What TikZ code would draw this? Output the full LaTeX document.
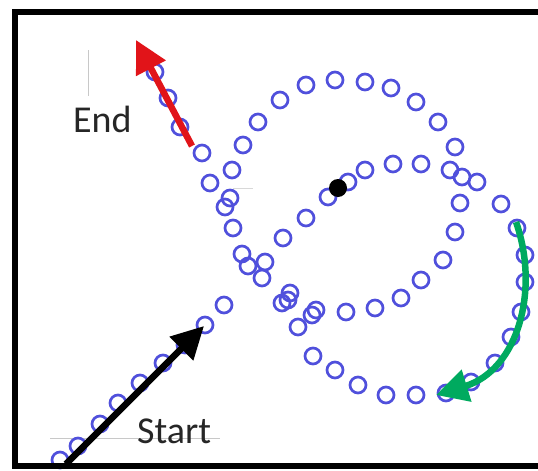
\documentclass[tikz,border=0pt]{standalone}
\usepackage{fontspec}
\setmainfont{Carlito}
\usetikzlibrary{arrows.meta}
\definecolor{ringblue}{RGB}{80,80,220}
\definecolor{arrred}{RGB}{225,20,25}
\definecolor{arrgreen}{RGB}{0,170,95}
\definecolor{axgray}{RGB}{200,200,200}
\tikzset{
  ring/.style={draw=ringblue, line width=2.7pt},
  bigarrow/.style={line width=6.5pt, -{Triangle[length=32pt,width=32pt]}},
  lbl/.style={font=\fontsize{38}{40}\selectfont, text=black!85, inner sep=0pt, anchor=base west}
}
\begin{document}
\begin{tikzpicture}[x=1pt,y=-1pt]
\useasboundingbox (0,0) rectangle (538,471);
\fill[white] (0,0) rectangle (538,471);
% faint axis remnants
\draw[axgray, line width=0.8pt] (88,50) -- (88,96);
\draw[axgray, line width=0.8pt] (50,438) -- (220,438);
\draw[axgray!70, line width=0.6pt] (233,188) -- (253,188);
% rings
\foreach \x/\y in {
 60/460, 78/446, 100/424, 118/403, 140/383, 163/363, 185/345, 205/325, 224/305,
 242/254, 248/266, 265/262, 262/278,
 290/293, 282/303, 298/327, 312/315, 313/356,
 202/153, 210/183, 232/170, 243/145, 230/198, 225/207, 233/228,
 258/122, 280/100, 306/85, 335/80, 365/82, 391/88, 416/102, 438/122, 455/147,
 450/170, 462/177, 477/182, 460/203, 501/204, 517/228, 455/232, 443/260,
 525/255, 525/282, 521/312, 511/337, 495/363, 471/382, 446/393,
 416/395, 386/395, 358/385, 335/370,
 421/280, 401/298, 375/308, 346/312, 316/310, 288/300,
 283/238, 306/218, 328/197, 348/182, 365/170, 393/164, 421/164,
 180/127, 168/98, 155/72}
 { \draw[ring] (\x,\y) circle[radius=8]; }
% black dot
\fill[black] (338,188) circle[radius=9];
% arrows
\coordinate (s0) at (66,464);
\coordinate (s1) at (204,326);
\draw[bigarrow, black] (s0) -- (s1);
\coordinate (e0) at (192,146);
\coordinate (e1) at (136,40);
\draw[bigarrow, arrred] (e0) -- (e1);
\coordinate (g0) at (516,222);
\coordinate (g1) at (436,395);
\draw[bigarrow, arrgreen] (g0) .. controls (540,290) and (518,370) .. (g1);
% labels
\node[lbl] (endlbl) at (73,132) {End};
\node[lbl] (startlbl) at (137,443) {Start};
% frame
\draw[black, line width=6pt] (560,11.5) -- (15,11.5) -- (15,466) -- (560,466);
\end{tikzpicture}
\end{document}
